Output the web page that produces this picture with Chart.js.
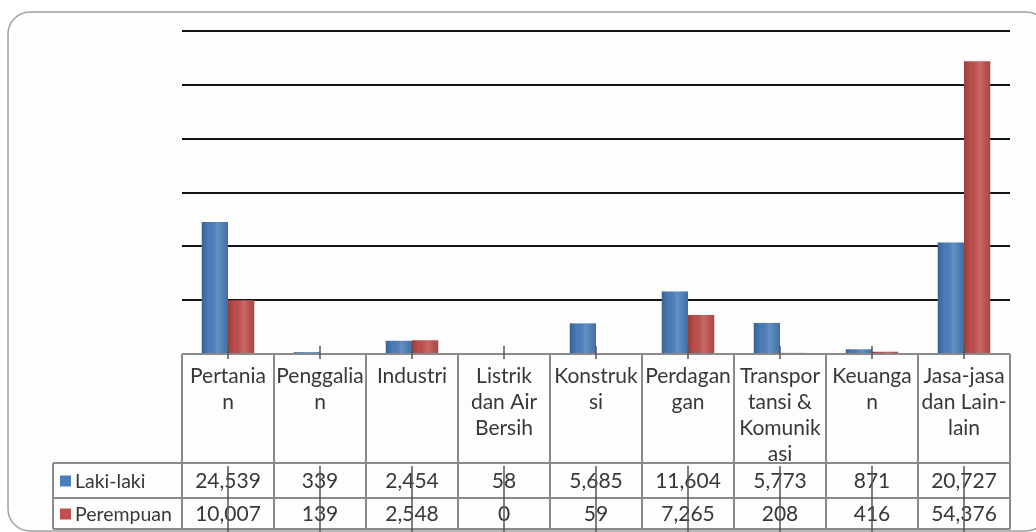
<!DOCTYPE html>
<html>
<head>
<meta charset="utf-8">
<script src="https://cdn.jsdelivr.net/npm/chart.js@4.4.0/dist/chart.umd.min.js"></script>
<style>
    html, body { margin: 0; padding: 0; background: #fff; }
    #wrap { width: 1036px; height: 532px; }
</style>
</head>
<body>
<div id="wrap"><canvas id="chart" width="1036" height="532"></canvas></div>
<script>
// Data
const categories = ['Pertanian', 'Penggalian', 'Industri', 'Listrik dan Air Bersih', 'Konstruksi',
    'Perdagangan', 'Transportansi & Komunikasi', 'Keuangan', 'Jasa-jasa dan Lain-lain'];
// header text as wrapped in the original table
const categoryLines = [
    ['Pertania', 'n'], ['Penggalia', 'n'], ['Industri'], ['Listrik', 'dan Air', 'Bersih'],
    ['Konstruk', 'si'], ['Perdagan', 'gan'], ['Transpor', 'tansi &', 'Komunik', 'asi'],
    ['Keuanga', 'n'], ['Jasa-jasa', 'dan Lain-', 'lain']
];
const seriesNames = ['Laki-laki', 'Perempuan'];
const lakiLaki = [24539, 339, 2454, 58, 5685, 11604, 5773, 871, 20727];
const perempuan = [10007, 139, 2548, 0, 59, 7265, 208, 416, 54376];
const yMax = 60000;
const yStep = 10000;

const colors = ['#4a7ebb', '#c0504d'];
const textFont = '21px Lato';
const legendFont = '19.5px Lato';
const textColor = '#383838';

// Rounded frame behind everything
const framePlugin = {
    id: 'frame',
    beforeDraw(chart) {
        const ctx = chart.ctx;
        ctx.save();
        ctx.beginPath();
        ctx.roundRect(8, 12, 1040, 519, 22);
        ctx.fillStyle = '#fdfdfd';
        ctx.fill();
        ctx.strokeStyle = '#a0a0a0';
        ctx.lineWidth = 1.5;
        ctx.stroke();
        ctx.restore();
    }
};

// Cylinder-ish shading on each bar
const shadePlugin = {
    id: 'shade',
    afterDatasetsDraw(chart) {
        const ctx = chart.ctx;
        ctx.save();
        chart.data.datasets.forEach((ds, di) => {
            chart.getDatasetMeta(di).data.forEach(bar => {
                const h = bar.base - bar.y;
                if (h <= 0) return;
                const left = bar.x - bar.width / 2;
                const g = ctx.createLinearGradient(left, 0, left + bar.width, 0);
                g.addColorStop(0, 'rgba(0,0,0,0.22)');
                g.addColorStop(0.25, 'rgba(0,0,0,0.02)');
                g.addColorStop(0.6, 'rgba(255,255,255,0.14)');
                g.addColorStop(1, 'rgba(0,0,0,0.12)');
                ctx.fillStyle = g;
                ctx.fillRect(left, bar.y, bar.width, h);
            });
        });
        ctx.restore();
    }
};

// Data table under the plot
const tablePlugin = {
    id: 'dataTable',
    afterDraw(chart) {
        const ctx = chart.ctx;
        const ca = chart.chartArea;
        const xs = chart.scales.x;
        const n = categories.length;
        const top = ca.bottom;
        const headerBottom = top + 109;
        const row1Bottom = headerBottom + 35;
        const row2Bottom = row1Bottom + 31;
        const legendLeft = 53;

        const centers = categories.map((c, i) => xs.getPixelForValue(i));
        const edges = [ca.left];
        for (let i = 1; i < n; i++) edges.push((centers[i - 1] + centers[i]) / 2);
        edges.push(ca.right);

        ctx.save();
        ctx.strokeStyle = '#8a8a8a';
        ctx.lineWidth = 2;
        ctx.beginPath();
        ctx.moveTo(ca.left, top); ctx.lineTo(ca.right, top);
        [headerBottom, row1Bottom, row2Bottom].forEach(y => {
            ctx.moveTo(legendLeft, y); ctx.lineTo(ca.right, y);
        });
        edges.forEach(x => { ctx.moveTo(x, top); ctx.lineTo(x, row2Bottom); });
        ctx.moveTo(legendLeft, headerBottom); ctx.lineTo(legendLeft, row2Bottom);
        ctx.stroke();

        ctx.fillStyle = textColor;
        ctx.textAlign = 'center';
        ctx.textBaseline = 'middle';
        ctx.font = textFont;
        categoryLines.forEach((lines, i) => {
            lines.forEach((t, k) => ctx.fillText(t, centers[i], top + 22 + k * 26));
        });

        const rows = [
            { vals: lakiLaki, y: (headerBottom + row1Bottom) / 2 },
            { vals: perempuan, y: (row1Bottom + row2Bottom) / 2 }
        ];
        rows.forEach((r, ri) => {
            ctx.font = textFont;
            ctx.textAlign = 'center';
            r.vals.forEach((v, i) => ctx.fillText(v.toLocaleString('en-US'), centers[i], r.y + 1));
            ctx.fillStyle = colors[ri];
            ctx.fillRect(60, r.y - 5, 11, 11);
            ctx.fillStyle = textColor;
            ctx.font = legendFont;
            ctx.textAlign = 'left';
            ctx.fillText(seriesNames[ri], 75, r.y + 1);
        });

        // category tick marks, carried through the value rows
        ctx.strokeStyle = '#555';
        ctx.lineWidth = 1.5;
        ctx.beginPath();
        centers.forEach(x => {
            ctx.moveTo(x, top - 8); ctx.lineTo(x, top + 5);
            ctx.moveTo(x, headerBottom + 3); ctx.lineTo(x, chart.height);
        });
        ctx.stroke();
        ctx.restore();
    }
};

new Chart(document.getElementById('chart'), {
    type: 'bar',
    data: {
        labels: categories,
        datasets: [
            { label: seriesNames[0], data: lakiLaki, backgroundColor: colors[0] },
            { label: seriesNames[1], data: perempuan, backgroundColor: colors[1] }
        ]
    },
    options: {
        responsive: false,
        animation: false,
        categoryPercentage: 0.57,
        barPercentage: 1.0,
        layout: { padding: { left: 182, right: 26, top: 31, bottom: 178 } },
        plugins: {
            legend: { display: false },
            tooltip: { enabled: false }
        },
        scales: {
            x: { display: false },
            y: {
                min: 0,
                max: yMax,
                ticks: { display: false, stepSize: yStep },
                grid: {
                    drawTicks: false,
                    lineWidth: 2,
                    color: c => c.tick && c.tick.value === 0 ? 'rgba(0,0,0,0)' : '#151515'
                },
                border: { display: false }
            }
        }
    },
    plugins: [framePlugin, shadePlugin, tablePlugin]
});
</script>
</body>
</html>
